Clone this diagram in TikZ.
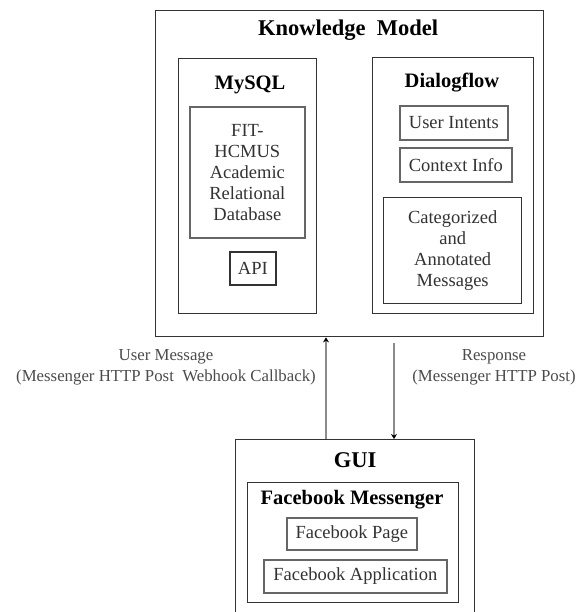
\documentclass[tikz,border=0pt]{standalone}
\usepackage{fontspec}
\setmainfont{Liberation Serif}
\usetikzlibrary{arrows.meta}
\begin{document}
\begin{tikzpicture}[x=1pt,y=-1pt,
  outer/.style={draw=black!80, line width=1.4pt, inner sep=0pt, anchor=north west},
  inner/.style={draw=black!60, line width=1.7pt, inner sep=0pt, anchor=north west},
  ttl/.style={font=\bfseries\fontsize{20.5}{22}\selectfont, text=black, inner sep=0pt},
  big/.style={font=\bfseries\fontsize{22.5}{24}\selectfont, text=black, inner sep=0pt},
  body/.style={font=\fontsize{18.5}{21}\selectfont, text=black!80, align=center},
  lbl/.style={font=\fontsize{16.8}{21}\selectfont, text=black!70, align=center, inner sep=0pt},
  conn/.style={draw=black!45, line width=1.8pt, -{Stealth[length=5pt,width=6pt,color=black]}}]
\clip (0,0) rectangle (584,612);
\fill[white] (0,0) rectangle (584,612);
% Knowledge model
\node[outer, minimum width=388pt, minimum height=326pt] (km) at (155,10) {};
\node[big] (kmt) at (348,30) {Knowledge\ \ Model};
% MySQL
\node[outer, minimum width=138pt, minimum height=255pt] (mysql) at (178,58) {};
\node[ttl] (mysqlt) at (250,85) {MySQL};
\node[inner, body, minimum width=115pt, minimum height=131pt] (fit) at (189,106) {FIT-\\HCMUS\\Academic\\Relational\\Database};
\node[outer, body, minimum width=46pt, minimum height=33pt, line width=1.6pt] (api) at (229,251) {API};
% Dialogflow
\node[outer, minimum width=161pt, minimum height=256pt] (df) at (372,57) {};
\node[ttl] (dft) at (452,83) {Dialogflow};
\node[inner, body, minimum width=108pt, minimum height=34pt] (ui) at (399,105) {User Intents};
\node[inner, body, minimum width=112pt, minimum height=34pt] (ci) at (399,147) {Context Info};
\node[outer, body, minimum width=138pt, minimum height=106pt] (cat) at (383,197) {Categorized\\and\\Annotated\\Messages};
% GUI
\node[outer, minimum width=239pt, minimum height=200pt] (gui) at (235,439) {};
\node[big] (guit) at (355,460) {GUI};
\node[outer, minimum width=211pt, minimum height=120pt] (fbm) at (247,482) {};
\node[ttl] (fbmt) at (352,500) {Facebook Messenger};
\node[inner, body, minimum width=130pt, minimum height=32pt] (fbp) at (286,517) {Facebook Page};
\node[inner, body, minimum width=183pt, minimum height=33pt] (fba) at (263,559) {Facebook Application};
% connectors
\coordinate (ux) at (326,0);
\coordinate (dx) at (394,0);
\draw[conn] (gui.north -| ux) -- (km.south -| ux);
\draw[conn] ([yshift=-6pt]km.south -| dx) -- (gui.north -| dx);
% labels
\node[lbl] (l1) at (166,367) {User Message\\(Messenger HTTP Post\ \ Webhook Callback)};
\node[lbl] (l2) at (494,367) {Response\\(Messenger HTTP Post)};
\end{tikzpicture}
\end{document}
